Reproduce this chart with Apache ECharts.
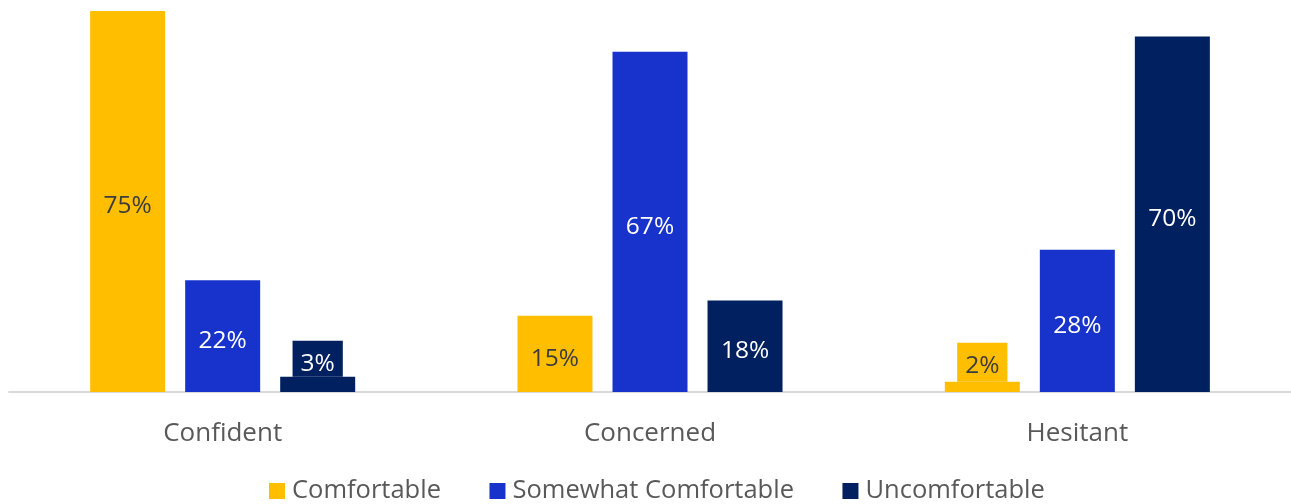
<!DOCTYPE html>
<html><head><meta charset="utf-8">
<script src="https://cdn.jsdelivr.net/npm/echarts@6/dist/echarts.min.js"></script>
<style>html,body{margin:0;padding:0;background:#fff}#c{width:1291px;height:504px}</style>
</head><body><div id="c"></div>
<script>
const categories = ['Confident', 'Concerned', 'Hesitant'];
const seriesNames = ['Comfortable', 'Somewhat Comfortable', 'Uncomfortable'];
const comfortable = [75, 15, 2];
const somewhat = [22, 67, 28];
const uncomfortable = [3, 18, 70];
const colors = ['#FFBE00', '#1733CC', '#00205F'];
const labelColors = ['#3c3c3c', '#ffffff', '#ffffff'];
const FONT = 'Open Sans';

const GRID_TOP = 11, GRID_BOTTOM = 112, Y_MAX = 75;
const pxPerUnit = (504 - GRID_TOP - GRID_BOTTOM) / Y_MAX;

function mkData(vals, i) {
  return vals.map(v => {
    if (v < 5) {
      const padBottom = Math.max(0, (3 - v) * pxPerUnit - 2);
      return { value: v, label: { position: 'top', distance: 0, offset: [0, 0], lineHeight: 25,
        backgroundColor: colors[i], padding: [11, 8, padBottom, 8] } };
    }
    return v;
  });
}
const allVals = [comfortable, somewhat, uncomfortable];
const chart = echarts.init(document.getElementById('c'));
chart.setOption({
  animation: false,
  textStyle: { fontFamily: FONT },
  grid: { left: 9, right: -2, top: GRID_TOP, bottom: GRID_BOTTOM },
  legend: {
    left: 264, top: 473,
    itemWidth: 16, itemHeight: 16, itemGap: 48.5,
    icon: 'rect',
    textStyle: { fontFamily: FONT, fontSize: 25.5, color: '#595959', padding: [0, 0, 0, 2] },
    data: seriesNames
  },
  xAxis: {
    type: 'category', data: categories,
    axisLine: { lineStyle: { color: '#d9d9d9', width: 2 } },
    axisTick: { show: false },
    axisLabel: { fontFamily: FONT, fontSize: 26, color: '#595959', margin: 29 }
  },
  yAxis: { type: 'value', min: 0, max: Y_MAX, show: false, splitLine: { show: false } },
  series: seriesNames.map((n, i) => ({
    name: n, type: 'bar', barWidth: 75, barGap: '26.7%',
    itemStyle: { color: colors[i] },
    label: { show: true, position: 'inside', offset: [0, 5], formatter: '{c}%', fontFamily: FONT, fontSize: 24.5, color: labelColors[i] },
    data: mkData(allVals[i], i)
  }))
});
</script></body></html>
